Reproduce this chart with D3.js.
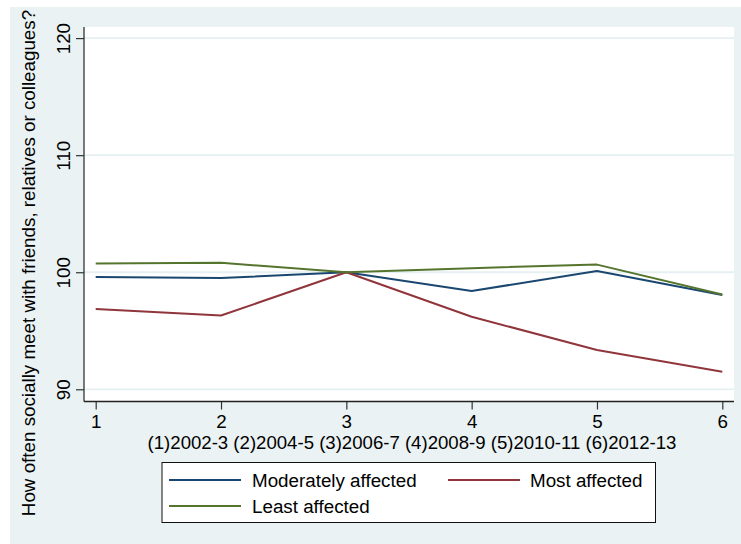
<!DOCTYPE html>
<html>
<head>
<meta charset="utf-8">
<script src="https://cdn.jsdelivr.net/npm/d3@7"></script>
<style>
  html, body { margin: 0; padding: 0; background: #ffffff; }
  svg { display: block; }
  text { font-family: "Liberation Sans", Arial, Helvetica, sans-serif; fill: #000; }
</style>
</head>
<body>
<svg id="chart" width="741" height="544"></svg>
<script>
// Survey waves (x positions) and their period labels
const waves = [1, 2, 3, 4, 5, 6];
const waveLabel = "(1)2002-3 (2)2004-5 (3)2006-7 (4)2008-9 (5)2010-11 (6)2012-13";
const yTicks = [90, 100, 110, 120];

// Index of social contact (wave 3 = 100) by how affected the area was
const moderate = [99.6, 99.5, 100, 98.4, 100.1, 98.05];
const most = [96.85, 96.3, 100, 96.2, 93.35, 91.5];
const least = [100.75, 100.8, 100, 100.35, 100.65, 98.1];

const seriesNames = ["Moderately affected", "Most affected", "Least affected"];
const seriesColors = ["#1a476f", "#90353b", "#55752f"];
const seriesValues = [moderate, most, least];

const yTitle = "How often socially meet with friends, relatives or colleagues?";

const svg = d3.select("#chart");

// layout
const plot = { left: 84, right: 734, top: 27, bottom: 401.5 };
const x = d3.scaleLinear().domain([1, 6]).range([95.7, 722.3]);
const y = d3.scaleLinear().domain([90, 120]).range([389.3, 38.1]);

// graph region background
svg.append("rect").attr("x", 10).attr("y", 7).attr("width", 731).attr("height", 537)
  .attr("fill", "#eaf2f3");

// plot region
svg.append("rect").attr("x", plot.left).attr("y", plot.top)
  .attr("width", plot.right - plot.left).attr("height", plot.bottom - plot.top)
  .attr("fill", "#ffffff");

// gridlines
svg.append("g").selectAll("line").data(yTicks).join("line")
  .attr("x1", plot.left).attr("x2", plot.right)
  .attr("y1", d => y(d)).attr("y2", d => y(d))
  .attr("stroke", "#e6eff1").attr("stroke-width", 1.8);

// series lines
const line = d3.line().x((d, i) => x(waves[i])).y(d => y(d));
seriesValues.forEach((vals, k) => {
  svg.append("path").datum(vals)
    .attr("d", line)
    .attr("fill", "none")
    .attr("stroke", seriesColors[k])
    .attr("stroke-width", 2)
    .attr("stroke-linejoin", "round");
});

// y axis
const yAxis = svg.append("g").attr("transform", `translate(${plot.left},0)`)
  .call(d3.axisLeft(y).tickValues(yTicks).tickSize(8).tickFormat(d3.format("d")));
yAxis.select(".domain").remove();
yAxis.selectAll(".tick line").attr("stroke", "#333").attr("stroke-width", 1.2);
yAxis.selectAll(".tick text")
  .attr("transform", "rotate(-90)")
  .attr("x", 0).attr("y", -14).attr("dy", 0)
  .attr("text-anchor", "middle")
  .style("font-size", "18.8px");

// x axis
const xAxis = svg.append("g").attr("transform", `translate(0,${plot.bottom})`)
  .call(d3.axisBottom(x).tickValues(waves).tickSize(8).tickFormat(d3.format("d")));
xAxis.select(".domain").remove();
xAxis.selectAll(".tick line").attr("stroke", "#333").attr("stroke-width", 1.2);
xAxis.selectAll(".tick text")
  .attr("y", 26.5).attr("dy", 0)
  .style("font-size", "18.8px");

// axis lines
svg.append("line").attr("x1", plot.left).attr("x2", plot.left)
  .attr("y1", plot.top).attr("y2", plot.bottom)
  .attr("stroke", "#333").attr("stroke-width", 1.3);
svg.append("line").attr("x1", plot.left).attr("x2", plot.right)
  .attr("y1", plot.bottom).attr("y2", plot.bottom)
  .attr("stroke", "#222").attr("stroke-width", 1.3);

// x axis title (wave periods)
svg.append("text")
  .attr("x", 412).attr("y", 448.5)
  .attr("text-anchor", "middle")
  .style("font-size", "18.6px")
  .text(waveLabel);

// y axis title
svg.append("text")
  .attr("transform", "translate(35,263) rotate(-90)")
  .attr("text-anchor", "middle")
  .style("font-size", "18.8px")
  .text(yTitle);

// legend
const legend = svg.append("g");
legend.append("rect").attr("x", 162).attr("y", 462.5).attr("width", 493.5).attr("height", 60)
  .attr("fill", "#ffffff").attr("stroke", "#111").attr("stroke-width", 1);
const legendPos = [
  { lx: 169, ty: 480, tx: 252 },
  { lx: 448, ty: 480, tx: 530 },
  { lx: 169, ty: 506, tx: 252 }
];
seriesNames.forEach((name, k) => {
  const p = legendPos[k];
  legend.append("line")
    .attr("x1", p.lx).attr("x2", p.lx + 72)
    .attr("y1", p.ty).attr("y2", p.ty)
    .attr("stroke", seriesColors[k]).attr("stroke-width", 2);
  legend.append("text")
    .attr("x", p.tx).attr("y", p.ty + 7)
    .style("font-size", "18.8px")
    .text(name);
});
</script>
</body>
</html>
